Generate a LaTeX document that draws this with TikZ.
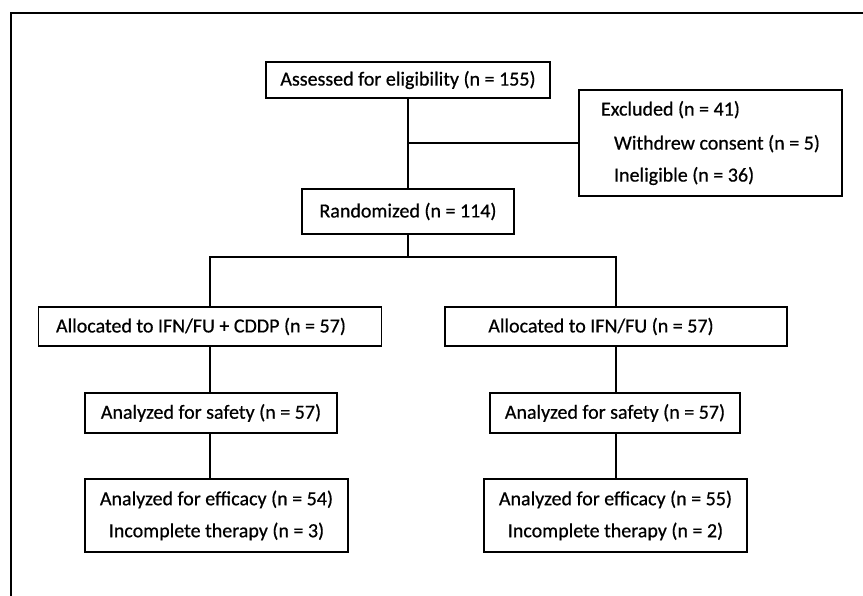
\documentclass[tikz,border=0pt]{standalone}
\usepackage{fontspec}
\setmainfont[FakeBold=0.6]{Carlito}
\usepackage{tikz}
\usetikzlibrary{positioning}

\begin{document}
\begin{tikzpicture}[x=1pt,y=-1pt,
    box/.style={draw, line width=1.4pt, inner sep=0pt, align=center, font=\fontsize{20}{32}\selectfont},
    link/.style={line width=1.1pt}]
            \useasboundingbox (0,0) rectangle (863,596);
            \draw[line width=1.4pt] (11,596) -- (11,13) -- (863,13);

            \node[box, minimum width=284, minimum height=36] (assessed) at (408, 80) {Assessed for eligibility (n = 155)};
            \node[box, minimum width=263, minimum height=106, align=left] (excluded) at (710.5, 143)
                {Excluded (n = 41)\\[2pt]\hspace*{13pt}Withdrew consent (n = 5)\hspace*{8pt}\\\hspace*{13pt}Ineligible (n = 36)};
            \node[box, minimum width=212, minimum height=45] (rand) at (408, 211.5) {Randomized (n = 114)};

            \node[box, minimum width=343, minimum height=39] (allocA) at (210, 326.5) {Allocated to IFN/FU + CDDP (n = 57)\hspace*{18pt}};
            \node[box, minimum width=342, minimum height=39] (allocB) at (616, 326.5) {Allocated to IFN/FU (n = 57)\hspace*{30pt}};
            \node[box, minimum width=252, minimum height=40] (safeA) at (211, 413) {Analyzed for safety (n = 57)};
            \node[box, minimum width=250, minimum height=40] (safeB) at (615, 413) {Analyzed for safety (n = 57)};
            \node[box, minimum width=263, minimum height=73] (effA) at (216.5, 515.5) {Analyzed for efficacy (n = 54)\\Incomplete therapy (n = 3)};
            \node[box, minimum width=263, minimum height=73] (effB) at (615.5, 515.5) {Analyzed for efficacy (n = 55)\\Incomplete therapy (n = 2)};

            \coordinate (exit) at (408, 143);
            \coordinate (split) at (408, 257);

            \draw[link] (assessed) -- (rand);
            \draw[link] (exit) -- (excluded);
            \draw[link] (rand) -- (split);
            \draw[link] (allocA) |- (split) -| (allocB);
            \draw[link] (allocA) -- (safeA.north -| allocA);
            \draw[link] (allocB) -- (safeB.north -| allocB);
            \draw[link] (safeA.south -| allocA) -- (effA.north -| allocA);
            \draw[link] (safeB.south -| allocB) -- (effB.north -| allocB);
\end{tikzpicture}
\end{document}
